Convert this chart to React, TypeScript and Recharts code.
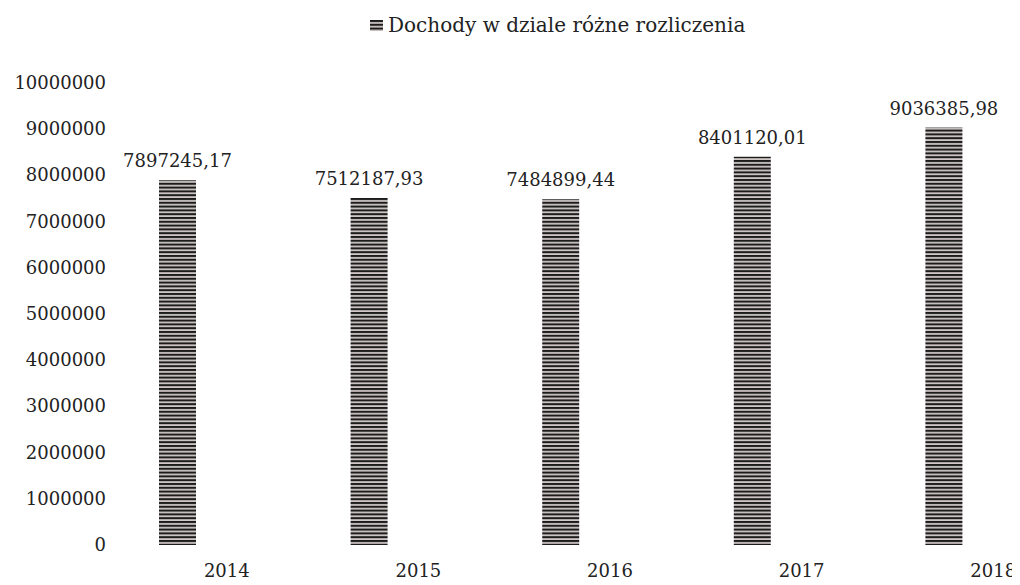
import { Bar, BarChart, LabelList, Legend, XAxis, YAxis } from "recharts";

const years = ["2014", "2015", "2016", "2017", "2018"];
const incomes = [7897245.17, 7512187.93, 7484899.44, 8401120.01, 9036385.98];
const yTicks = [0, 1000000, 2000000, 3000000, 4000000, 5000000, 6000000, 7000000, 8000000, 9000000, 10000000];
const seriesName = "Dochody w dziale różne rozliczenia";

const data = years.map((year, i) => ({ year, income: incomes[i] }));

const FONT = "'DejaVu Serif', serif";
const INK = "#222";

const fmt = (v: number) => v.toFixed(2).replace(".", ",");

function YTick(props: any) {
  const { x, y, payload } = props;
  return (
    <text x={x + 32} y={y} dy={6} textAnchor="end" fontFamily={FONT} fontSize={18} fill={INK}>
      {payload.value}
    </text>
  );
}

function XTick(props: any) {
  const { x, y, payload } = props;
  return (
    <text x={x + 49} y={y + 24} textAnchor="middle" fontFamily={FONT} fontSize={18} fill={INK}>
      {payload.value}
    </text>
  );
}

function LegendContent() {
  return (
    <div style={{ display: "flex", alignItems: "center", fontFamily: FONT, fontSize: 20, color: INK, whiteSpace: "nowrap" }}>
      <svg width={13} height={11} style={{ marginRight: 5 }}>
        <rect width={13} height={11} fill="url(#stripes)" />
      </svg>
      {seriesName}
    </div>
  );
}

export default function App() {
  return (
    <div style={{ width: 1012, height: 577, overflow: "hidden" }}>
      <BarChart width={1040} height={577} data={data} margin={{ top: 75, right: 8, bottom: 0, left: 0 }}>
        <defs>
          <pattern id="stripes" width={6} height={3.8} patternUnits="userSpaceOnUse">
            <rect width={6} height={3.8} fill="#cfc6c6" />
            <rect y={0} width={6} height={2} fill="#1c1c1c" />
          </pattern>
        </defs>
        <XAxis dataKey="year" axisLine={false} tickLine={false} height={40} tick={<XTick />} interval={0} />
        <YAxis
          domain={[0, 10000000]}
          ticks={yTicks}
          axisLine={false}
          tickLine={false}
          width={74}
          tick={<YTick />}
          interval={0}
        />
        <Legend
          layout="horizontal"
          verticalAlign="middle"
          align="center"
          content={<LegendContent />}
          wrapperStyle={{ top: 5, left: 362, width: "auto", height: "auto" }}
        />
        <Bar dataKey="income" name={seriesName} fill="url(#stripes)" barSize={37} isAnimationActive={false}>
          <LabelList
            dataKey="income"
            position="top"
            offset={13}
            formatter={(v: any) => fmt(Number(v))}
            style={{ fontFamily: FONT, fontSize: 18, fill: INK }}
          />
        </Bar>
      </BarChart>
    </div>
  );
}
